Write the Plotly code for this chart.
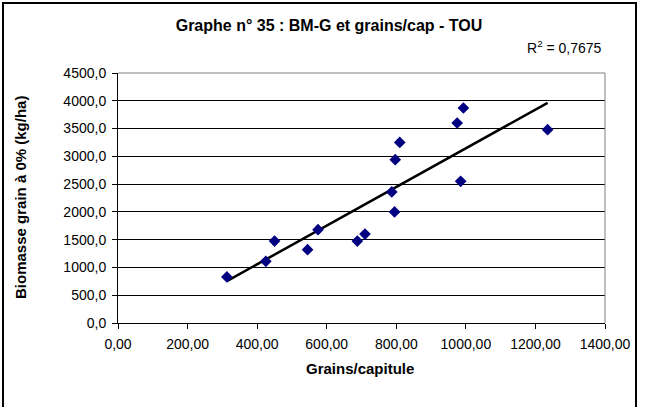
import numpy as np
import plotly.graph_objects as go

grains = [313, 425, 450, 545, 575, 688, 710, 795, 787, 797, 810, 975, 993, 985, 1235]
biomasse = [830, 1110, 1475, 1320, 1680, 1475, 1600, 2000, 2360, 2940, 3250, 3600, 3870, 2550, 3480]
x_ticks = [0, 200, 400, 600, 800, 1000, 1200, 1400]
x_tick_labels = ["0,00", "200,00", "400,00", "600,00", "800,00", "1000,00", "1200,00", "1400,00"]
y_ticks = [0, 500, 1000, 1500, 2000, 2500, 3000, 3500, 4000, 4500]
y_tick_labels = ["0,0", "500,0", "1000,0", "1500,0", "2000,0", "2500,0", "3000,0", "3500,0", "4000,0", "4500,0"]
r2_text = "R<sup>2</sup> = 0,7675"
title = "Graphe n° 35 : BM-G et grains/cap - TOU"
x_title = "Grains/capitule"
y_title = "Biomasse grain à 0% (kg/ha)"

slope, intercept = np.polyfit(grains, biomasse, 1)
xl = [min(grains), max(grains)]
yl = [slope * v + intercept for v in xl]

font = "Liberation Sans, Arial, sans-serif"
fig = go.Figure()
fig.add_trace(go.Scatter(x=xl, y=yl, mode="lines", line=dict(color="black", width=2.5), hoverinfo="skip"))
fig.add_trace(go.Scatter(x=grains, y=biomasse, mode="markers",
                         marker=dict(symbol="diamond", size=9, color="#000080")))

L, R, T, B = 118, 41, 73, 84
W, H = 646, 407
pw, ph = W - L - R, H - T - B
def px(xp): return (xp - L) / pw
def py(yp): return (H - B - yp) / ph

fig.update_layout(
    width=W, height=H, showlegend=False,
    margin=dict(l=L, r=R, t=T, b=B),
    paper_bgcolor="white", plot_bgcolor="white",
    font=dict(family=font, size=14, color="black"),
    xaxis=dict(range=[0, 1400], tickvals=x_ticks, ticktext=x_tick_labels,
               showgrid=False, zeroline=False, showline=True, linecolor="black", linewidth=1,
               ticks="outside", ticklen=5, tickcolor="black", tickfont=dict(size=14),
               ticklabelstandoff=3),
    yaxis=dict(range=[0, 4500], tickvals=y_ticks, ticktext=y_tick_labels,
               showgrid=True, gridcolor="black", gridwidth=1, zeroline=False,
               showline=True, linecolor="black", linewidth=1,
               ticks="outside", ticklen=5, tickcolor="black", tickfont=dict(size=14),
               ticklabelstandoff=3),
    title=dict(text="<b>" + title + "</b>", xref="container", yref="container",
               x=329 / W, xanchor="center", y=1 - 25 / H, yanchor="middle",
               font=dict(size=16)),
    shapes=[
        dict(type="line", xref="paper", yref="paper", x0=0, x1=1, y0=1, y1=1, line=dict(color="#808080", width=1)),
        dict(type="line", xref="paper", yref="paper", x0=1, x1=1, y0=0, y1=1, line=dict(color="#808080", width=1)),
        dict(type="rect", xref="paper", yref="paper", x0=px(3), x1=px(636), y0=py(3), y1=py(410),
             line=dict(color="black", width=2)),
    ],
    annotations=[
        dict(text=r2_text, xref="paper", yref="paper", x=px(604), y=py(47), xanchor="right", yanchor="middle",
             showarrow=False, font=dict(size=14)),
        dict(text="<b>" + x_title + "</b>", xref="paper", yref="paper", x=px(360), y=py(368),
             xanchor="center", yanchor="middle", showarrow=False, font=dict(size=15)),
        dict(text="<b>" + y_title + "</b>", xref="paper", yref="paper", x=px(20), y=py(198),
             xanchor="center", yanchor="middle", textangle=-90, showarrow=False, font=dict(size=15)),
    ],
)
fig.write_html("out.html", config={"displayModeBar": False},
               post_script="document.body.style.margin='0';document.body.style.overflow='hidden';")
